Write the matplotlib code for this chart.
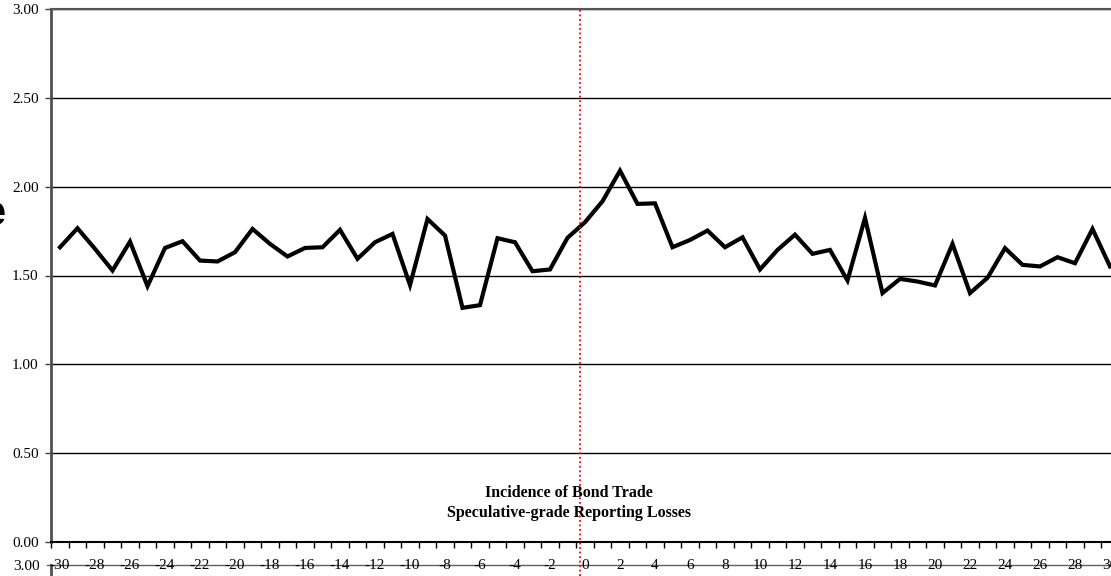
import numpy as np
import matplotlib
matplotlib.use("Agg")
import matplotlib.pyplot as plt
from matplotlib.lines import Line2D
from matplotlib.ticker import FixedLocator, FuncFormatter

# ---- data ----
event_days = list(range(-30, 31))
incidence = [
    1.659, 1.766, 1.650, 1.528, 1.691, 1.440, 1.655, 1.693, 1.584, 1.579,
    1.631, 1.762, 1.678, 1.607, 1.655, 1.659, 1.757, 1.594, 1.687, 1.734,
    1.446, 1.818, 1.725, 1.318, 1.333, 1.710, 1.687, 1.524, 1.534, 1.712,
    1.800, 1.918, 2.090, 1.903, 1.906, 1.659, 1.700, 1.753, 1.659, 1.715,
    1.534, 1.644, 1.730, 1.622, 1.644, 1.472, 1.824, 1.401, 1.481, 1.466,
    1.444, 1.678, 1.401, 1.487, 1.654, 1.560, 1.551, 1.603, 1.569, 1.762,
    1.551,
]
y_ticks = [0.0, 0.5, 1.0, 1.5, 2.0, 2.5, 3.0]
x_label_days = list(range(-30, 31, 2))
event_line_x = -0.3
annotation = "Incidence of Bond Trade\nSpeculative-grade Reporting Losses"

plt.rcParams['font.family'] = ['Liberation Serif', 'DejaVu Serif']
plt.rcParams['axes.unicode_minus'] = False

W, H = 1111, 576
fig = plt.figure(figsize=(W / 100, H / 100), dpi=100)
ax_left, ax_right, ax_top, ax_bot = 51.25, 1118.75, 9, 542
ax = fig.add_axes([ax_left / W, (H - ax_bot) / H,
                   (ax_right - ax_left) / W, (ax_bot - ax_top) / H])

ax.plot(event_days, incidence, color='black', lw=3, solid_joinstyle='miter', zorder=3)

ax.set_xlim(-30.5, 30.5)
ax.set_ylim(0, 3)

ax.yaxis.set_major_locator(FixedLocator(y_ticks))
ax.yaxis.set_major_formatter(FuncFormatter(lambda v, p: f"{v:.2f}"))
ax.yaxis.grid(True, color='black', lw=1)
ax.set_axisbelow(True)

ax.xaxis.set_major_locator(FixedLocator(x_label_days))
ax.xaxis.set_minor_locator(FixedLocator(np.arange(-30.5, 31, 1.0)))
ax.tick_params(axis='x', which='major', length=0, pad=12, labelsize=11)
ax.tick_params(axis='x', which='minor', length=4, width=1, direction='out', color='black')
ax.tick_params(axis='y', which='major', length=4, width=1, direction='out', pad=5,
               labelsize=11, color='#404040')

ax.spines['right'].set_visible(False)
ax.spines['top'].set_color('#555555')
ax.spines['top'].set_linewidth(1.5)
ax.spines['bottom'].set_color('black')
ax.spines['bottom'].set_linewidth(1.5)
ax.spines['left'].set_color('#505050')
ax.spines['left'].set_linewidth(2)

# event-day marker
ax.axvline(event_line_x, ymin=-(H - ax_bot) / (ax_bot - ax_top), ymax=1,
           color='red', lw=1.3, ls=(0, (1, 1.5)), clip_on=False, zorder=4)

ax.text(-0.9, 0.22, annotation, ha='center', va='center', fontsize=11.5,
        fontweight='bold', linespacing=1.3, zorder=5)

# top of the neighbouring chart below (cropped)
def px(x, y):
    return x / W, (H - y) / H

x0, y0 = px(47, 565)
x1, _ = px(W, 565)
fig.add_artist(Line2D([x0, x1], [y0, y0], color='#606060', lw=1, zorder=0))
xs, ys0 = px(51, 565)
_, ys1 = px(51, 576)
fig.add_artist(Line2D([xs, xs], [ys0, ys1], color='#505050', lw=2, zorder=0))
fig.text(*px(40, 566), "3.00", ha='right', va='center', fontsize=11)

# cropped large label fragment at left edge
fig.text(*px(6, 214), "e", ha='right', va='center', fontsize=30,
         fontweight='bold', family=['Liberation Sans', 'DejaVu Sans'])

fig.savefig("out.png", dpi=100)
